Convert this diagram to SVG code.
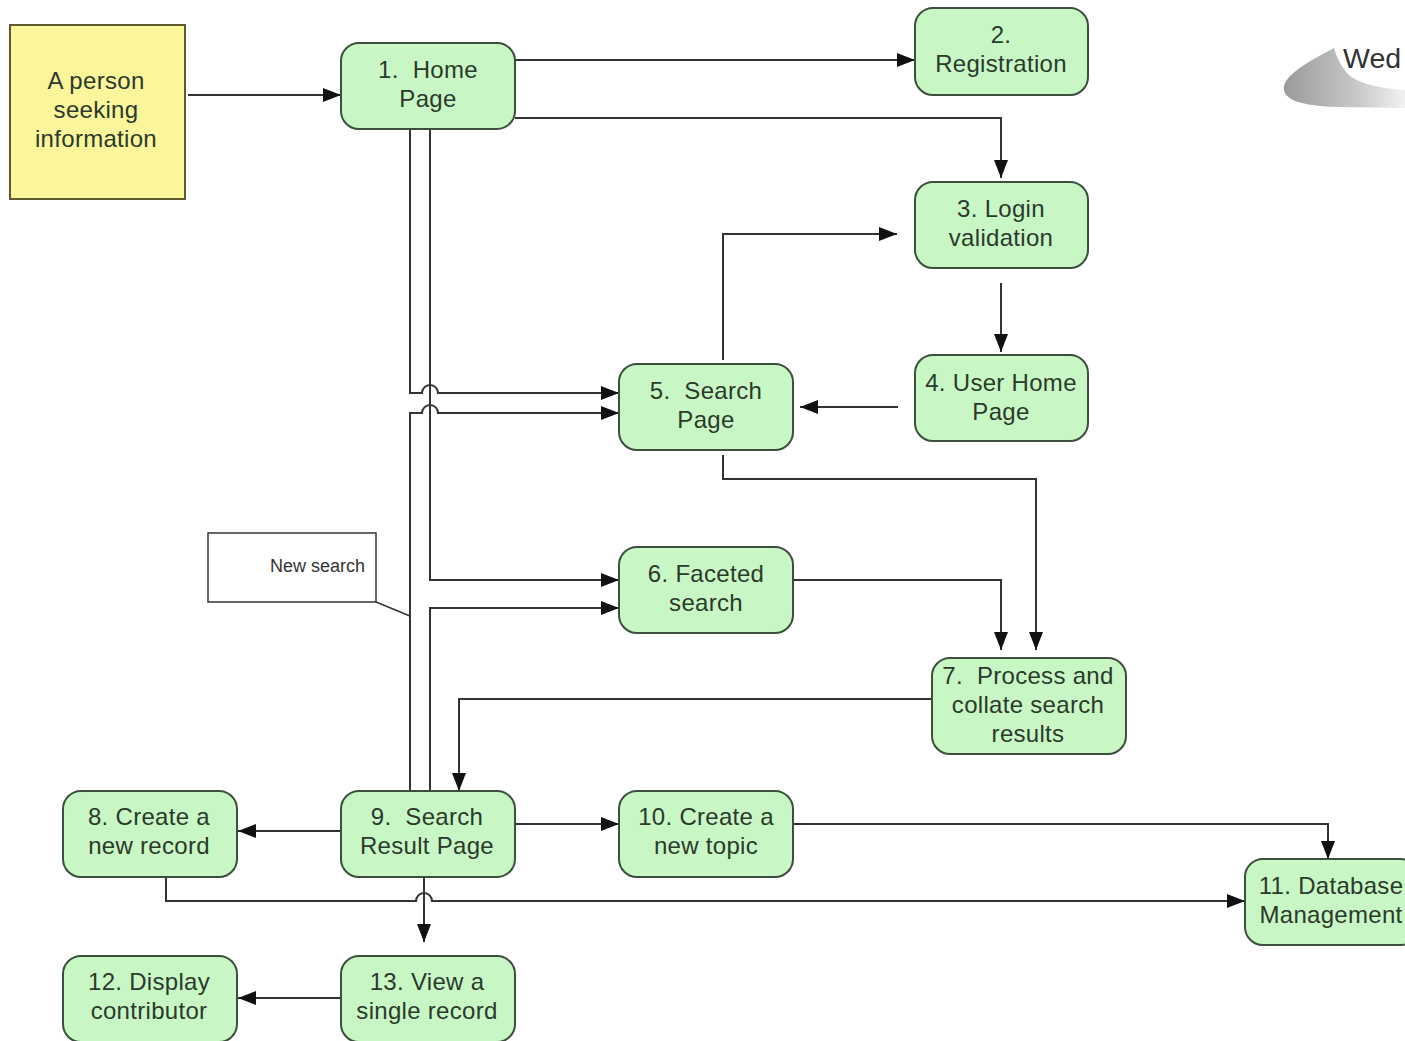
<svg xmlns="http://www.w3.org/2000/svg" width="1405" height="1041" viewBox="0 0 1405 1041">
<style>
.node rect{fill:#c8f7c5;stroke:#3c4f3c;stroke-width:2}
.node text,.person text{font-family:"Liberation Sans",Arial,sans-serif;font-size:24px;letter-spacing:0.3px;fill:#2b3a2b;text-anchor:middle;white-space:pre}
.person rect{fill:#fbf59c;stroke:#5e5a30;stroke-width:2}
.conn path{fill:none;stroke:#333;stroke-width:2}
.note rect{fill:#fff;stroke:#333;stroke-width:1.5}
.note text{font-family:"Liberation Sans",Arial,sans-serif;font-size:18px;fill:#333;text-anchor:end}
</style>
<defs>
<marker id="arr" markerUnits="userSpaceOnUse" markerWidth="20" markerHeight="16" refX="18" refY="7" orient="auto">
<path d="M0,0 L18,7 L0,14 z" fill="#111"/>
</marker>
<linearGradient id="sw" x1="0" y1="0" x2="1" y2="0">
<stop offset="0" stop-color="#9a9a9a"/>
<stop offset="0.6" stop-color="#c8c8c8"/>
<stop offset="1" stop-color="#f2f2f2"/>
</linearGradient>
</defs>
<rect width="1405" height="1041" fill="#fff"/>
<g id="wed">
<path d="M1334,48 C1312,60 1288,72 1284,86 C1282,100 1300,106 1340,107 L1405,108 L1405,90 C1375,88 1354,82 1346,72 C1340,64 1336,56 1334,48 z" fill="url(#sw)"/>
<text x="1343" y="68" font-family="Liberation Sans,Arial,sans-serif" font-size="28.5" fill="#333">Wed</text>
</g>
<g class="conn" id="connectors">
<path d="M188,95 H341" marker-end="url(#arr)"/>
<path d="M515,60 H915" marker-end="url(#arr)"/>
<path d="M515,118 H1001 V178" marker-end="url(#arr)"/>
<path d="M1001,283 V352" marker-end="url(#arr)"/>
<path d="M898,407 H800" marker-end="url(#arr)"/>
<path d="M723,360 V234 H897" marker-end="url(#arr)"/>
<path d="M723,455 V479 H1036 V650" marker-end="url(#arr)"/>
<path d="M793,580 H1001 V650" marker-end="url(#arr)"/>
<path d="M932,699 H459 V791" marker-end="url(#arr)"/>
<path d="M410,129 V393 H422 A8,8 0 0 1 438,393 H619" marker-end="url(#arr)"/>
<path d="M410,791 V413 H422 A8,8 0 0 1 438,413 H619" marker-end="url(#arr)"/>
<path d="M430,129 V580 H619" marker-end="url(#arr)"/>
<path d="M430,791 V608 H619" marker-end="url(#arr)"/>
<path d="M341,831 H238" marker-end="url(#arr)"/>
<path d="M515,824 H619" marker-end="url(#arr)"/>
<path d="M793,824 H1328 V859" marker-end="url(#arr)"/>
<path d="M166,877 V901 H416 A8,8 0 0 1 432,901 H1245" marker-end="url(#arr)"/>
<path d="M424,877 V942" marker-end="url(#arr)"/>
<path d="M341,998 H238" marker-end="url(#arr)"/>
<path d="M376,602 L410,616" style="stroke-width:1.5"/>
</g>
<g class="note" id="new-search">
<rect x="208" y="533" width="168" height="69"/>
<text x="365" y="572">New search</text>
</g>
<g class="person" id="person">
<rect x="10" y="25" width="175" height="174"/>
<text x="96" y="89">A person</text>
<text x="96" y="118">seeking</text>
<text x="96" y="147">information</text>
</g>
<g class="node" id="n1"><rect x="341" y="43" width="174" height="86" rx="18"/><text x="428" y="78">1.  Home</text><text x="428" y="107">Page</text></g>
<g class="node" id="n2"><rect x="915" y="8" width="173" height="87" rx="18"/><text x="1001" y="43">2.</text><text x="1001" y="72">Registration</text></g>
<g class="node" id="n3"><rect x="915" y="182" width="173" height="86" rx="18"/><text x="1001" y="217">3. Login</text><text x="1001" y="246">validation</text></g>
<g class="node" id="n4"><rect x="915" y="355" width="173" height="86" rx="18"/><text x="1001" y="391">4. User Home</text><text x="1001" y="420">Page</text></g>
<g class="node" id="n5"><rect x="619" y="364" width="174" height="86" rx="18"/><text x="706" y="399">5.  Search</text><text x="706" y="428">Page</text></g>
<g class="node" id="n6"><rect x="619" y="547" width="174" height="86" rx="18"/><text x="706" y="582">6. Faceted</text><text x="706" y="611">search</text></g>
<g class="node" id="n7"><rect x="932" y="658" width="194" height="96" rx="18"/><text x="1028" y="684">7.  Process and</text><text x="1028" y="713">collate search</text><text x="1028" y="742">results</text></g>
<g class="node" id="n8"><rect x="63" y="791" width="174" height="86" rx="18"/><text x="149" y="825">8. Create a</text><text x="149" y="854">new record</text></g>
<g class="node" id="n9"><rect x="341" y="791" width="174" height="86" rx="18"/><text x="427" y="825">9.  Search</text><text x="427" y="854">Result Page</text></g>
<g class="node" id="n10"><rect x="619" y="791" width="174" height="86" rx="18"/><text x="706" y="825">10. Create a</text><text x="706" y="854">new topic</text></g>
<g class="node" id="n11"><rect x="1245" y="859" width="174" height="86" rx="18"/><text x="1331" y="894">11. Database</text><text x="1331" y="923">Management</text></g>
<g class="node" id="n12"><rect x="63" y="956" width="174" height="86" rx="18"/><text x="149" y="990">12. Display</text><text x="149" y="1019">contributor</text></g>
<g class="node" id="n13"><rect x="341" y="956" width="174" height="86" rx="18"/><text x="427" y="990">13. View a</text><text x="427" y="1019">single record</text></g>
</svg>
